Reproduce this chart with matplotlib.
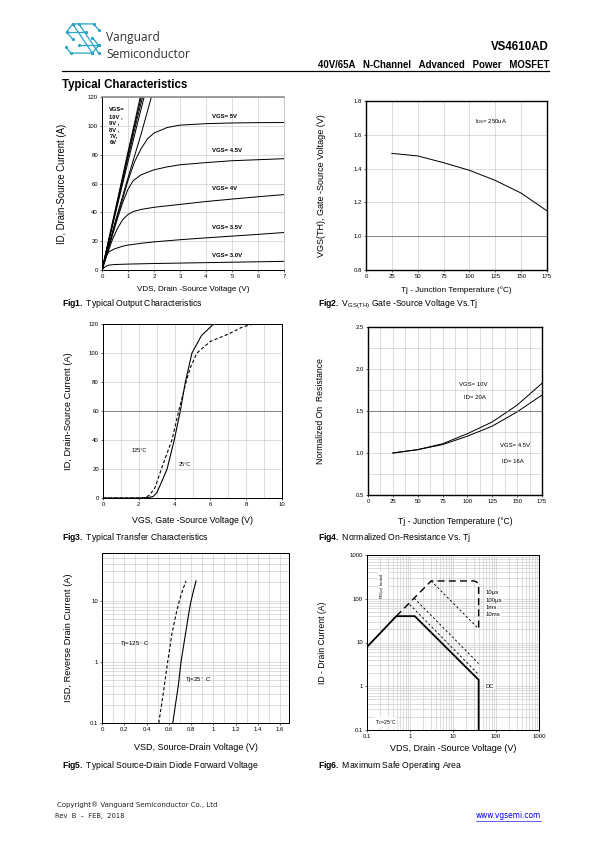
import numpy as np
import matplotlib.pyplot as plt
from matplotlib.ticker import MultipleLocator, LogLocator, NullFormatter, FuncFormatter

W, H = 595, 842
plt.rcParams['font.family'] = ['Liberation Sans', 'DejaVu Sans']
plt.rcParams['mathtext.fontset'] = 'custom'
plt.rcParams['mathtext.rm'] = 'Liberation Sans'
plt.rcParams['mathtext.bf'] = 'Liberation Sans:bold'
plt.rcParams['mathtext.it'] = 'Liberation Sans:italic'
NARROW = ['Liberation Sans Narrow', 'Liberation Sans']

# ---------------- Fig1: output characteristics (VDS, ID) ----------------
v30_x = [0, 0.1, 0.2, 0.3, 0.5, 1, 2, 3, 4, 5, 6, 7]
v30_y = [0, 2.0, 3.0, 3.5, 3.8, 4.1, 4.5, 4.8, 5.1, 5.4, 5.7, 6.0]
v35_x = [0, 0.1, 0.2, 0.3, 0.5, 0.8, 1.0, 1.5, 2, 3, 4, 5, 6, 7]
v35_y = [0, 6, 11, 13, 14.8, 16.5, 17.3, 18.5, 19.5, 21, 22.3, 23.5, 24.7, 26]
v40_x = [0, 0.2, 0.4, 0.6, 0.8, 1.0, 1.2, 1.5, 2, 3, 4, 5, 6, 7]
v40_y = [0, 11, 21, 29, 35, 38.5, 40.5, 42, 43.5, 45.5, 47.5, 49.2, 50.8, 52.3]
v45_x = [0, 0.2, 0.4, 0.6, 0.8, 1.0, 1.2, 1.5, 2, 2.5, 3, 4, 5, 6, 7]
v45_y = [0, 12, 24, 36, 47, 56, 62, 66, 69.5, 71.5, 73, 74.5, 75.8, 76.5, 77.2]
v50_x = [0, 0.5, 1.0, 1.25, 1.5, 1.75, 2.0, 2.5, 3, 4, 5, 6, 7]
v50_y = [0, 31, 62, 75, 84, 91, 95, 98.8, 100.5, 101.5, 102, 102.2, 102.3]
v60_x = [0, 0.5, 1.0, 1.5, 1.9]
v60_y = [0, 33, 64, 94, 120]
v70_x = [0, 0.5, 1.0, 1.3, 1.62]
v70_y = [0, 38, 75, 97, 120]
v80_x = [0, 0.5, 1.0, 1.3, 1.56]
v80_y = [0, 39, 78, 101, 120]
v90_x = [0, 0.5, 1.0, 1.3, 1.51]
v90_y = [0, 40, 80, 104, 120]
v100_x = [0, 0.5, 1.0, 1.3, 1.47]
v100_y = [0, 41, 82, 106, 120]
fig1_curves = [(v30_x, v30_y), (v35_x, v35_y), (v40_x, v40_y), (v45_x, v45_y),
               (v50_x, v50_y), (v60_x, v60_y), (v70_x, v70_y), (v80_x, v80_y),
               (v90_x, v90_y), (v100_x, v100_y)]
fig1_labels = ['VGS= 3.0V', 'VGS= 3.5V', 'VGS= 4V', 'VGS= 4.5V', 'VGS= 5V']
fig1_label_y = [8, 27.5, 55, 81.5, 105]

# ---------------- Fig2: VGS(th) vs Tj ----------------
tj2 = [25, 50, 75, 100, 125, 150, 175]
vth = [1.49, 1.475, 1.435, 1.39, 1.33, 1.255, 1.15]

# ---------------- Fig3: transfer characteristics ----------------
vgs25 = [0, 2.0, 2.5, 2.8, 3.0, 3.2, 3.58, 3.98, 4.32, 4.6, 4.97, 5.5, 6.18]
id25 = [0, 0, 0.3, 1.0, 3.5, 9, 20, 40, 60, 80, 100, 112, 120]
vgs125 = [0, 2.3, 2.6, 2.9, 3.26, 3.85, 4.23, 4.64, 4.88, 5.25, 6.0, 7.0, 7.8, 8.4]
id125 = [0, 0, 2, 7, 20, 40, 60, 80, 90, 100, 108, 113, 118, 120]

# ---------------- Fig4: normalized RDS(on) vs Tj ----------------
tj4 = [25, 50, 75, 100, 125, 150, 175]
rds10 = [1.0, 1.04, 1.11, 1.23, 1.37, 1.57, 1.83]
rds45 = [1.0, 1.04, 1.10, 1.20, 1.32, 1.49, 1.69]

# ---------------- Fig5: body diode forward voltage ----------------
vsd25 = [0.636, 0.66, 0.685, 0.71, 0.745, 0.775, 0.795, 0.82, 0.845]
isd25 = [0.1, 0.2, 0.4, 1.0, 2.5, 5.5, 9, 14, 21]
vsd125 = [0.51, 0.55, 0.59, 0.63, 0.665, 0.695, 0.725, 0.755]
isd125 = [0.1, 0.3, 1.0, 3, 6, 10, 15, 21]

# ---------------- Fig6: safe operating area ----------------
dc_v = [0.1, 0.48, 1.29, 39.5, 39.5]
dc_i = [7.9, 40, 40, 1.4, 0.1]
lim_v = [0.48, 3.1, 30, 35, 38, 39.5, 39.5]
lim_i = [40, 255, 255, 245, 225, 190, 21]
p100_v = [3.1, 39.5]
p100_i = [255, 20.5]
p1m_v = [1.25, 39.5]
p1m_i = [103, 3.3]
p10m_v = [0.98, 39.5]
p10m_i = [74, 1.85]
soa_labels = ['10µs', '100µs', '1ms', '10ms']
soa_label_i = [137, 93, 63, 44]


def px_box(x0, y0, x1, y1):
    return [x0 / W, 1 - y1 / H, (x1 - x0) / W, (y1 - y0) / H]


def style(ax, frame='k', lw=1.0):
    ax.tick_params(direction='out', length=2, width=0.6, labelsize=6, pad=2,
                   labelfontfamily=NARROW)
    ax.tick_params(which='minor', length=0)
    for s in ax.spines.values():
        s.set_color(frame)
        s.set_linewidth(lw)
    ax.set_axisbelow(True)


def labels(ax, xlab, xsize, xy, ylab, ysize, yx):
    ax.set_xlabel(xlab, fontsize=xsize)
    ax.set_ylabel(ylab, fontsize=ysize)
    ax.xaxis.set_label_coords(0.5, xy)
    ax.yaxis.set_label_coords(yx, 0.5)


fig = plt.figure(figsize=(W / 72, H / 72), dpi=72)

# ---- header ----
logo = fig.add_axes(px_box(65, 23, 100, 54))
logo.set_xlim(0, 1)
logo.set_ylim(0, 1)
logo.axis('off')
teal = '#2ba6c8'
logo_paths = [
    [(0.22, 0.97), (0.82, 0.97), (0.96, 0.78)],
    [(0.22, 0.97), (0.05, 0.72), (0.22, 0.47)],
    [(0.22, 0.97), (0.78, 0.03)],
    [(0.40, 0.97), (0.96, 0.03)],
    [(0.78, 0.03), (0.16, 0.03), (0.03, 0.22)],
    [(0.78, 0.03), (0.96, 0.28), (0.78, 0.53)],
    [(0.05, 0.72), (0.60, 0.72)],
    [(0.40, 0.28), (0.96, 0.28)],
]
for p in logo_paths:
    xs, ys = zip(*p)
    logo.plot(xs, ys, color=teal, lw=1.3, solid_capstyle='round')
    logo.plot(xs, ys, 'o', color=teal, ms=2.2)

brand = ['Open Sans', 'DejaVu Sans']
fig.text(106 / W, 1 - 38 / H, 'Vanguard', fontsize=12, family=brand, color='#333333', va='center')
fig.text(106 / W, 1 - 54 / H, 'Semiconductor', fontsize=12, family=brand, color='#333333', va='center')
fig.text(549 / W, 1 - 47 / H, 'VS4610AD', fontsize=11.5, weight='bold', ha='right', va='center')
fig.text(549 / W, 1 - 64.5 / H, '40V/65A   N-Channel   Advanced   Power   MOSFET', fontsize=9.6,
         weight='bold', ha='right', va='center')
fig.add_artist(plt.Line2D([62 / W, 549 / W], [1 - 71 / H, 1 - 71 / H], color='k', lw=1.2))
fig.text(62 / W, 1 - 85 / H, 'Typical Characteristics', fontsize=11.5, weight='bold', va='center')

grid_c = '#c8c8c8'

# ---- Fig1 ----
ax1 = fig.add_axes(px_box(102, 97, 284, 270))
for x, y in fig1_curves:
    ax1.plot(x, y, color='k', lw=1.0)
ax1.set_xlim(0, 7)
ax1.set_ylim(0, 120)
ax1.set_xticks(range(0, 8))
ax1.set_yticks(range(0, 121, 20))
ax1.grid(color=grid_c, lw=0.6)
style(ax1)
ax1.spines['top'].set_color('#8a8a8a')
ax1.spines['top'].set_linewidth(1.6)
ax1.spines['right'].set_color(grid_c)
for lab, yy in zip(fig1_labels, fig1_label_y):
    ax1.text(4.25, yy, lab, fontsize=6, weight='bold', family=NARROW, va='bottom')
ax1.text(0.28, 113, 'VGS=\n10V ,\n9V ,\n8V ,\n7V,\n6V', fontsize=5.8, weight='bold',
         family=NARROW, va='top', linespacing=1.4)
labels(ax1, 'VDS, Drain -Source Voltage (V)', 8, -0.09,
       'ID, Drain-Source Current (A)', 9.5, -0.195)
fig.text(62 / W, 1 - 304 / H, r'$\bf{Fig1.}$ Typical Output Characteristics', fontsize=8.6, va='center')

# ---- Fig2 ----
ax2 = fig.add_axes(px_box(366, 101, 547, 270))
ax2.plot(tj2, vth, color='k', lw=1.0)
ax2.set_xlim(0, 175)
ax2.set_ylim(0.8, 1.8)
ax2.set_xticks(range(0, 176, 25))
ax2.set_yticks([0.8, 1.0, 1.2, 1.4, 1.6, 1.8])
ax2.yaxis.set_major_formatter(FuncFormatter(lambda v, p: f'{v:.1f}'))
ax2.grid(color=grid_c, lw=0.6)
ax2.axhline(1.0, color='#707070', lw=0.8)
style(ax2, lw=1.4)
ax2.text(105, 1.67, r'I$_{\mathrm{DS}}$= 250uA', fontsize=6, family=NARROW)
labels(ax2, 'Tj - Junction Temperature (°C)', 8.2, -0.095,
       'VGS(TH), Gate -Source Voltage (V)', 9, -0.22)
fig.text(318 / W, 1 - 304 / H, r'$\bf{Fig2.}$ V$_{\mathrm{GS(TH)}}$ Gate -Source Voltage Vs.Tj',
         fontsize=8.6, va='center')

# ---- Fig3 ----
ax3 = fig.add_axes(px_box(103, 324, 282, 498))
ax3.plot(vgs25, id25, color='k', lw=1.1)
ax3.plot(vgs125, id125, color='k', lw=1.1, ls=(0, (3, 2)))
ax3.set_xlim(0, 10)
ax3.set_ylim(0, 120)
ax3.set_xticks(range(0, 11, 2))
ax3.set_yticks(range(0, 121, 20))
ax3.xaxis.set_minor_locator(MultipleLocator(1))
ax3.grid(which='both', color=grid_c, lw=0.6)
ax3.axhline(60, color='#707070', lw=0.8)
style(ax3)
ax3.text(1.6, 32, '125°C', fontsize=5.5, family=NARROW)
ax3.text(4.25, 22, '25°C', fontsize=5.5, family=NARROW)
labels(ax3, 'VGS, Gate -Source Voltage (V)', 8.8, -0.105,
       'ID, Drain-Source Current (A)', 9.3, -0.17)
fig.text(62 / W, 1 - 537 / H, r'$\bf{Fig3.}$ Typical Transfer Characteristics', fontsize=8.6, va='center')

# ---- Fig4 ----
ax4 = fig.add_axes(px_box(368, 327, 542, 495))
ax4.plot(tj4, rds10, color='k', lw=1.0)
ax4.plot(tj4, rds45, color='k', lw=1.0)
ax4.set_xlim(0, 175)
ax4.set_ylim(0.5, 2.5)
ax4.set_xticks(range(0, 176, 25))
ax4.set_yticks([0.5, 1.0, 1.5, 2.0, 2.5])
ax4.yaxis.set_major_formatter(FuncFormatter(lambda v, p: f'{v:.1f}'))
ax4.xaxis.set_minor_locator(MultipleLocator(12.5))
ax4.yaxis.set_minor_locator(MultipleLocator(0.25))
ax4.grid(which='both', color=grid_c, lw=0.6)
ax4.axhline(1.5, color='#707070', lw=0.8)
style(ax4, lw=1.4)
ax4.text(92, 1.80, 'VGS= 10V', fontsize=6, family=NARROW)
ax4.text(97, 1.64, 'ID= 20A', fontsize=6, family=NARROW)
ax4.text(133, 1.07, 'VGS= 4.5V', fontsize=6, family=NARROW)
ax4.text(135, 0.88, 'ID= 16A', fontsize=6, family=NARROW)
labels(ax4, 'Tj - Junction Temperature (°C)', 8.5, -0.13,
       'Normalized On  Resistance', 8.6, -0.245)
fig.text(318 / W, 1 - 537 / H, r'$\bf{Fig4.}$ Normalized On-Resistance Vs. Tj', fontsize=8.6, va='center')

# ---- Fig5 ----
ax5 = fig.add_axes(px_box(102, 553, 289, 723))
ax5.plot(vsd25, isd25, color='k', lw=1.1)
ax5.plot(vsd125, isd125, color='k', lw=1.1, ls=(0, (3, 2)))
ax5.set_yscale('log')
ax5.set_xlim(0, 1.68)
ax5.set_ylim(0.1, 60)
ax5.set_xticks(np.arange(0, 1.61, 0.2))
ax5.xaxis.set_major_formatter(FuncFormatter(lambda v, p: f'{v:g}' if abs(v) > 1e-9 else '0'))
ax5.xaxis.set_minor_locator(MultipleLocator(0.1))
ax5.set_yticks([0.1, 1, 10])
ax5.yaxis.set_major_formatter(FuncFormatter(lambda v, p: f'{v:g}'))
ax5.yaxis.set_minor_locator(LogLocator(subs=np.arange(2, 10)))
ax5.yaxis.set_minor_formatter(NullFormatter())
ax5.grid(which='both', color=grid_c, lw=0.6)
style(ax5)
ax5.text(0.16, 1.95, 'Tj=125$^\\circ$ C', fontsize=6, family=NARROW, va='center')
ax5.text(0.75, 0.49, 'Tj=25$^\\circ$ C', fontsize=6, family=NARROW, va='center')
labels(ax5, 'VSD, Source-Drain Voltage (V)', 9, -0.12,
       'ISD, Reverse Drain Current (A)', 9.3, -0.155)
fig.text(62 / W, 1 - 766 / H, r'$\bf{Fig5.}$ Typical Source-Drain Diode Forward Voltage', fontsize=8.6, va='center')

# ---- Fig6 ----
ax6 = fig.add_axes(px_box(367, 555, 539, 730))
ax6.set_xscale('log')
ax6.set_yscale('log')
ax6.plot(dc_v, dc_i, color='k', lw=1.8)
ax6.plot(lim_v, lim_i, color='k', lw=1.4, ls=(0, (5, 3)))
ax6.plot(p100_v, p100_i, color='k', lw=0.9, ls=(0, (2.5, 2.5)))
ax6.plot(p1m_v, p1m_i, color='k', lw=0.9, ls=(0, (2.5, 2.5)))
ax6.plot(p10m_v, p10m_i, color='k', lw=0.9, ls=(0, (2.5, 2.5)))
ax6.set_xlim(0.1, 1000)
ax6.set_ylim(0.1, 1000)
ax6.set_xticks([0.1, 1, 10, 100, 1000])
ax6.set_yticks([0.1, 1, 10, 100, 1000])
fmt = FuncFormatter(lambda v, p: f'{v:g}')
ax6.xaxis.set_major_formatter(fmt)
ax6.yaxis.set_major_formatter(fmt)
for a in (ax6.xaxis, ax6.yaxis):
    a.set_minor_locator(LogLocator(subs=np.arange(2, 10)))
    a.set_minor_formatter(NullFormatter())
ax6.grid(which='both', color=grid_c, lw=0.6)
style(ax6)
box = dict(facecolor='white', edgecolor='none', pad=0.6)
for lab, yy in zip(soa_labels, soa_label_i):
    ax6.text(57, yy, lab, fontsize=6, family=NARROW, va='center', bbox=box)
ax6.text(57, 1.0, 'DC', fontsize=6, family=NARROW, va='center', bbox=box)
ax6.text(0.23, 200, r'R$_{\mathrm{DS(on)}}$ limited', fontsize=4, family=NARROW, rotation=90,
         ha='center', va='center', bbox=box)
ax6.text(0.15, 0.15, r'T$_{\mathrm{C}}$=25°C', fontsize=5, family=NARROW, va='center', bbox=box)
labels(ax6, 'VDS, Drain -Source Voltage (V)', 9, -0.08,
       'ID - Drain Current (A)', 8.6, -0.235)
fig.text(318 / W, 1 - 766 / H, r'$\bf{Fig6.}$ Maximum Safe Operating Area', fontsize=8.6, va='center')

# ---- footer ----
fig.text(57 / W, 1 - 805 / H, 'Copyright® Vanguard Semiconductor Co., Ltd', fontsize=7,
         family='DejaVu Sans', va='center', color='#222222')
fig.text(55 / W, 1 - 816 / H, 'Rev  B  –  FEB,  2018', fontsize=6.8, family='DejaVu Sans',
         va='center', color='#222222')
url = fig.text(541 / W, 1 - 816 / H, 'www.vgsemi.com', fontsize=7.5, family='DejaVu Sans',
               va='center', ha='right', color='#0000ee')
fig.canvas.draw()
bb = url.get_window_extent()
fig.add_artist(plt.Line2D([bb.x0 / W, bb.x1 / W], [(bb.y0 - 0.5) / H, (bb.y0 - 0.5) / H],
                          color='#0000ee', lw=0.6))

fig.savefig('out.png', dpi=72)
